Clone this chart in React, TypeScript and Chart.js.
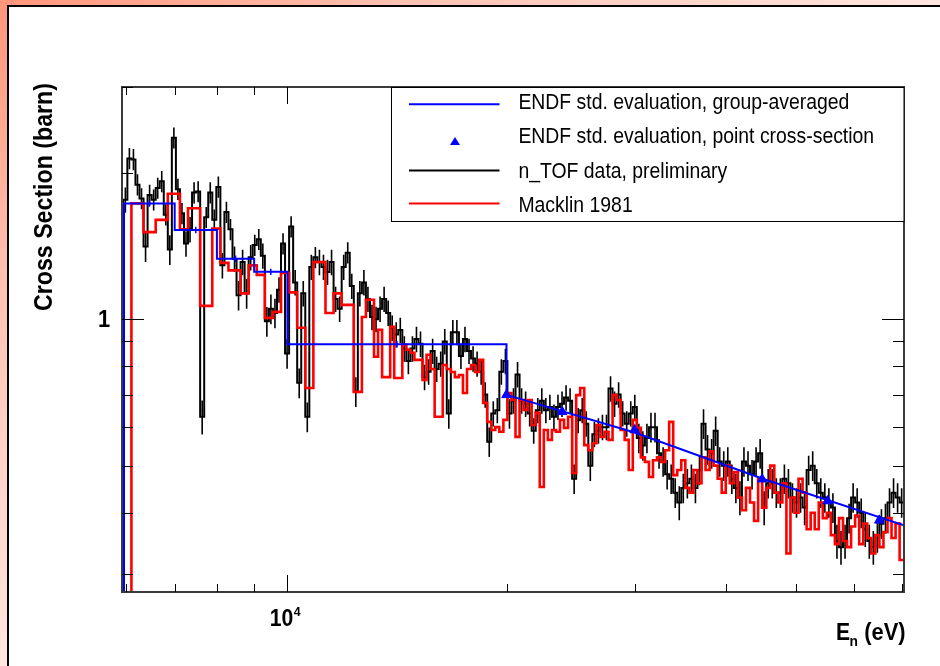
import React, { useEffect, useRef } from 'react';
import { Chart, registerables } from 'chart.js';

Chart.register(...registerables);

// ---- axis ranges (eV, barn) ----
const X_MIN = 5925;
const X_MAX = 70340;
const Y_MIN = 0.275;
const Y_MAX = 3.0;
const FLOOR = 0.2; // below the axis, histograms start from here

// ---- n_TOF binning: log-uniform bins ----
const BIN_START = 5950;
const BINS_PER_DECADE = 180;

// n_TOF data, preliminary (barn per bin)
const ntofXS = [
  1.76, 2.14, 2.13, 1.89, 1.77, 1.41, 1.80, 1.76, 1.86, 1.92,
  1.64, 1.39, 2.36, 1.85, 1.65, 1.43, 1.53, 1.82, 1.83, 0.63,
  1.62, 1.82, 1.60, 1.87, 1.29, 1.66, 1.53, 1.33, 1.12, 1.31,
  1.13, 1.34, 1.42, 1.46, 1.35, 0.99, 1.05, 1.03, 1.15, 1.43,
  0.85, 1.55, 1.19, 0.74, 1.13, 0.63, 1.28, 1.34, 1.31, 1.28,
  1.25, 1.31, 1.10, 1.05, 1.28, 1.37, 1.17, 0.71, 1.13, 1.19,
  1.10, 1.01, 1.00, 1.05, 1.10, 1.03, 0.96, 0.93, 0.95, 0.87,
  0.82, 0.87, 0.91, 0.89, 0.76, 0.78, 0.86, 0.79, 0.81, 0.90,
  0.64, 0.94, 0.94, 0.84, 0.91, 0.86, 0.83, 0.81, 0.78, 0.70,
  0.56, 0.64, 0.65, 0.78, 0.82, 0.64, 0.68, 0.77, 0.68, 0.67,
  0.64, 0.59, 0.65, 0.68, 0.65, 0.66, 0.63, 0.66, 0.67, 0.69,
  0.68, 0.47, 0.62, 0.65, 0.61, 0.50, 0.58, 0.59, 0.60, 0.60,
  0.72, 0.67, 0.70, 0.64, 0.61, 0.64, 0.66, 0.57, 0.55, 0.57,
  0.60, 0.60, 0.53, 0.51, 0.48, 0.47, 0.44, 0.42, 0.45, 0.46,
  0.47, 0.45, 0.49, 0.61, 0.54, 0.53, 0.59, 0.51, 0.50, 0.51,
  0.47, 0.45, 0.43, 0.51, 0.50, 0.48, 0.51, 0.53, 0.41, 0.46,
  0.46, 0.44, 0.44, 0.47, 0.46, 0.43, 0.42, 0.43, 0.41, 0.49,
  0.50, 0.46, 0.44, 0.43, 0.42, 0.41, 0.35, 0.34, 0.35, 0.39,
  0.43, 0.42, 0.40, 0.37, 0.35, 0.34, 0.36, 0.38, 0.39, 0.42,
  0.44, 0.43, 0.42,
];

// relative uncertainty of each n_TOF bin (percent)
const ntofErrPct = [
  6, 5, 5, 5, 5, 7, 5, 5, 5, 5,
  5, 7, 5, 5, 5, 6, 6, 5, 5, 8,
  5, 5, 5, 5, 6, 5, 5, 6, 7, 6,
  7, 6, 5, 5, 6, 7, 7, 7, 6, 5,
  7, 5, 6, 7, 6, 7, 6, 5, 6, 6,
  6, 6, 6, 6, 6, 5, 6, 7, 6, 6,
  6, 6, 6, 6, 6, 6, 6, 6, 6, 6,
  6, 6, 6, 6, 6, 6, 6, 6, 6, 6,
  7, 6, 6, 6, 6, 6, 6, 6, 6, 6,
  7, 6, 6, 6, 6, 7, 6, 6, 6, 6,
  6, 6, 6, 6, 6, 6, 6, 6, 6, 6,
  6, 7, 6, 6, 6, 7, 6, 6, 6, 6,
  6, 6, 6, 6, 6, 6, 6, 7, 7, 7,
  7, 7, 7, 7, 7, 7, 7, 8, 7, 7,
  7, 7, 7, 7, 7, 7, 7, 7, 7, 7,
  7, 7, 8, 7, 7, 7, 7, 7, 8, 7,
  7, 7, 7, 7, 7, 7, 7, 7, 8, 7,
  7, 7, 7, 7, 7, 7, 8, 8, 8, 7,
  7, 7, 7, 8, 8, 8, 8, 7, 7, 7,
  7, 7, 7,
];

// Macklin 1981 (same bin grid, starting at bin 2)
const MACKLIN_FIRST_BIN = 2;
const macklinXS = [
  1.73, 1.73, 1.73, 1.51, 1.51, 1.51, 1.60, 1.60, 1.60, 1.81,
  1.81, 1.81, 1.53, 1.53, 1.69, 1.69, 1.69, 1.065, 1.065, 1.065,
  1.535, 1.535, 1.305, 1.305, 1.26, 1.26, 1.26, 1.13, 1.13, 1.29,
  1.29, 1.233, 1.233, 1.006, 1.006, 1.035, 1.035, 1.245, 1.245, 1.135,
  1.135, 0.96, 0.96, 0.722, 0.722, 1.31, 1.31, 1.31, 1.03, 1.03,
  1.13, 1.13, 1.07, 1.07, 1.07, 0.709, 0.709, 1.01, 1.096, 1.096,
  0.837, 0.951, 0.76, 0.76, 0.964, 0.757, 0.757, 0.886, 0.865, 0.853,
  0.825, 0.825, 0.75, 0.845, 0.79, 0.63, 0.63, 0.805, 0.79, 0.779,
  0.76, 0.768, 0.705, 0.79, 0.805, 0.779, 0.825, 0.673, 0.615, 0.592,
  0.60, 0.587, 0.621, 0.705, 0.682, 0.573, 0.682, 0.651, 0.682, 0.606,
  0.642, 0.452, 0.592, 0.565, 0.592, 0.587, 0.621, 0.598, 0.63, 0.483,
  0.698, 0.722, 0.551, 0.538, 0.556, 0.606, 0.573, 0.587, 0.565, 0.698,
  0.682, 0.592, 0.565, 0.49, 0.621, 0.598, 0.52, 0.509, 0.474, 0.513,
  0.52, 0.509, 0.538, 0.615, 0.478, 0.49, 0.513, 0.45, 0.44, 0.49,
  0.46, 0.52, 0.49, 0.535, 0.50, 0.47, 0.44, 0.50, 0.46, 0.485,
  0.43, 0.405, 0.45, 0.42, 0.385, 0.47, 0.41, 0.45, 0.50, 0.44,
  0.42, 0.46, 0.33, 0.43, 0.40, 0.47, 0.44, 0.37, 0.40, 0.37,
  0.42, 0.39, 0.40, 0.36, 0.345, 0.39, 0.35, 0.34, 0.375, 0.395,
  0.345, 0.38, 0.355, 0.33, 0.36, 0.34, 0.365, 0.39, 0.355, 0.38,
  0.32,
];

// ENDF std. evaluation, group-averaged
const groupEdges = [5963, 7000, 8000, 9000, 10000, 20000];
const groupXS = [1.729, 1.525, 1.331, 1.251, 0.888];
const groupErrPct = [1.5, 1.5, 1.5, 1.5, 1.5];
const endfLineE = [20000, 30000, 45000, 70340];
const endfLineXS = [0.699, 0.585, 0.47, 0.377];

// ENDF std. evaluation, point cross-section
const endfPointE = [20000, 23850, 30000, 44900, 55250, 65050];
const endfPointXS = [0.699, 0.645, 0.592, 0.469, 0.423, 0.386];

// axis ticks
const xTickValues = [6000, 7000, 8000, 9000, 10000, 20000, 30000, 40000, 50000, 60000, 70000];
const xMajorTicks = [10000];
const yTickValues = [0.3, 0.4, 0.5, 0.6, 0.7, 0.8, 0.9, 1, 2, 3];
const yMajorTicks = [1];

const legendLabels = [
  'ENDF std. evaluation, group-averaged',
  'ENDF std. evaluation, point cross-section',
  'n_TOF data, preliminary',
  'Macklin 1981',
];
const yTitle = 'Cross Section (barn)';

const FONT = '"Liberation Sans", Arial, Helvetica, sans-serif';

function edge(k: number) {
  return BIN_START * Math.pow(10, k / BINS_PER_DECADE);
}

function histPoints(vals: number[], first: number) {
  const pts: { x: number; y: number | null }[] = [{ x: edge(first), y: FLOOR }];
  vals.forEach((v, i) => pts.push({ x: edge(first + i), y: v }));
  pts.push({ x: edge(first + vals.length), y: vals[vals.length - 1] });
  return pts;
}

function errorPoints(vals: number[], pct: number[], centers: number[]) {
  const pts: { x: number; y: number | null }[] = [];
  vals.forEach((v, i) => {
    const c = centers[i];
    pts.push({ x: c, y: v * (1 - pct[i] / 100) });
    pts.push({ x: c, y: v * (1 + pct[i] / 100) });
    pts.push({ x: c, y: null });
  });
  return pts;
}

function inkText(
  ctx: CanvasRenderingContext2D,
  s: string,
  font: string,
  x: number,
  y: number,
  align: 'left' | 'right' | 'center',
  sx: number
) {
  ctx.save();
  ctx.font = font;
  ctx.textAlign = 'left';
  ctx.textBaseline = 'alphabetic';
  const m = ctx.measureText(s);
  const l = -m.actualBoundingBoxLeft;
  const r = m.actualBoundingBoxRight;
  let ox = x - l * sx;
  if (align === 'right') ox = x - r * sx;
  if (align === 'center') ox = x - ((l + r) / 2) * sx;
  ctx.translate(ox, y);
  ctx.scale(sx, 1);
  ctx.fillText(s, 0, 0);
  ctx.restore();
}

const rootStyle = {
  id: 'rootStyle',
  afterDatasetsDraw(chart: any) {
    const ctx: CanvasRenderingContext2D = chart.ctx;
    const xs = chart.scales.x;
    const ys = chart.scales.y;
    const { left, right, top, bottom } = chart.chartArea;

    ctx.save();
    // frame
    ctx.strokeStyle = '#3a3a3a';
    ctx.lineWidth = 2;
    ctx.strokeRect(left, top, right - left, bottom - top);

    // ticks
    ctx.strokeStyle = '#000';
    ctx.lineWidth = 1;
    ctx.beginPath();
    xTickValues.forEach((v) => {
      const px = Math.round(xs.getPixelForValue(v)) + 0.5;
      const len = xMajorTicks.includes(v) ? 17 : 8;
      ctx.moveTo(px, bottom);
      ctx.lineTo(px, bottom - len);
      ctx.moveTo(px, top);
      ctx.lineTo(px, top + len);
    });
    yTickValues.forEach((v) => {
      const py = Math.round(ys.getPixelForValue(v)) + 0.5;
      const len = yMajorTicks.includes(v) ? 22 : 11;
      ctx.moveTo(left, py);
      ctx.lineTo(left + len, py);
      ctx.moveTo(right, py);
      ctx.lineTo(right - len, py);
    });
    ctx.stroke();

    // legend box
    const lx0 = 391.5, ly0 = top, lx1 = right, ly1 = 221.5;
    ctx.fillStyle = '#fff';
    ctx.fillRect(lx0, ly0, lx1 - lx0, ly1 - ly0);
    ctx.strokeStyle = '#000';
    ctx.lineWidth = 1;
    ctx.strokeRect(lx0, ly0 + 0.5, lx1 - lx0, ly1 - ly0 - 0.5);

    const rowBase = [109.3, 143.4, 177.5, 211.6];
    const rowLineY = [104.3, 141.5, 170.5, 203.5];
    const colors = ['#0000ff', '#0000ff', '#000000', '#ff0000'];
    ctx.lineWidth = 2;
    [0, 2, 3].forEach((i) => {
      ctx.strokeStyle = colors[i];
      ctx.beginPath();
      ctx.moveTo(409, rowLineY[i]);
      ctx.lineTo(499.5, rowLineY[i]);
      ctx.stroke();
    });
    // triangle marker in legend
    ctx.fillStyle = '#0000ff';
    ctx.beginPath();
    ctx.moveTo(455, rowLineY[1] - 4.5);
    ctx.lineTo(460, rowLineY[1] + 3.5);
    ctx.lineTo(450, rowLineY[1] + 3.5);
    ctx.closePath();
    ctx.fill();

    ctx.fillStyle = '#000';
    const lfont = `22px ${FONT}`;
    ctx.font = lfont;
    const m0 = ctx.measureText(legendLabels[0]);
    const lsx = (848.3 - 519.3) / (m0.actualBoundingBoxRight + m0.actualBoundingBoxLeft);
    legendLabels.forEach((s, i) => inkText(ctx, s, lfont, 519.3, rowBase[i], 'left', lsx));

    // y tick label "1"
    const y1 = ys.getPixelForValue(yMajorTicks[0]);
    inkText(ctx, '1', `bold 23px ${FONT}`, 110.3, y1 + 7.4, 'right', 0.95);

    // x tick label 10^4
    const x4 = xs.getPixelForValue(xMajorTicks[0]);
    inkText(ctx, '10', `bold 23px ${FONT}`, x4 - 16.7, 626, 'left', 0.92);
    inkText(ctx, '4', `bold 13px ${FONT}`, x4 + 6.3, 615.5, 'left', 0.95);

    // x title E_n (eV)
    inkText(ctx, 'E', `bold 23px ${FONT}`, 837, 640, 'left', 0.92);
    inkText(ctx, 'n', `bold 15px ${FONT}`, 849.5, 646, 'left', 0.92);
    inkText(ctx, '(eV)', `bold 23px ${FONT}`, 905, 640, 'right', 0.95);

    // y title (rotated)
    ctx.save();
    const tfont = `bold 25px ${FONT}`;
    ctx.font = tfont;
    const mt = ctx.measureText(yTitle);
    const tsx = 226.7 / (mt.actualBoundingBoxRight + mt.actualBoundingBoxLeft);
    ctx.translate(51.7, 196.7);
    ctx.rotate(-Math.PI / 2);
    inkText(ctx, yTitle, tfont, 0, 0, 'center', tsx);
    ctx.restore();

    ctx.restore();
  },
};

export default function App() {
  const ref = useRef<HTMLCanvasElement | null>(null);

  useEffect(() => {
    if (!ref.current) return;
    const centers = ntofXS.map((_, i) => Math.sqrt(edge(i) * edge(i + 1)));
    const groupCenters = groupXS.map((_, i) => Math.sqrt(groupEdges[i] * groupEdges[i + 1]));

    const bluePts: { x: number; y: number | null }[] = [{ x: groupEdges[0], y: FLOOR }];
    groupXS.forEach((v, i) => {
      bluePts.push({ x: groupEdges[i], y: v });
      bluePts.push({ x: groupEdges[i + 1], y: v });
    });
    endfLineE.forEach((e, i) => bluePts.push({ x: e, y: endfLineXS[i] }));

    const clip = { left: 0, top: 0, right: 0, bottom: 0 };

    const chart = new Chart(ref.current, {
      type: 'line',
      data: {
        datasets: [
          {
            label: legendLabels[1],
            data: endfPointE.map((e, i) => ({ x: e, y: endfPointXS[i] })),
            showLine: false,
            pointStyle: 'triangle',
            pointRadius: 5.5,
            pointBackgroundColor: '#0000ff',
            pointBorderColor: '#0000ff',
            pointBorderWidth: 1,
            clip,
          },
          {
            label: legendLabels[0],
            data: bluePts,
            borderColor: '#0000ff',
            borderWidth: 2,
            pointRadius: 0,
            fill: false,
            clip,
          },
          {
            label: 'group marks',
            data: errorPoints(groupXS, groupErrPct, groupCenters),
            borderColor: '#0000ff',
            borderWidth: 1.5,
            pointRadius: 0,
            spanGaps: false,
            clip,
          },
          {
            label: legendLabels[3],
            data: histPoints(macklinXS, MACKLIN_FIRST_BIN),
            borderColor: '#ff0000',
            borderWidth: 2.6,
            stepped: true,
            pointRadius: 0,
            fill: false,
            clip,
          },
          {
            label: 'n_TOF errors',
            data: errorPoints(ntofXS, ntofErrPct, centers),
            borderColor: '#000000',
            borderWidth: 1.6,
            pointRadius: 0,
            spanGaps: false,
            clip,
          },
          {
            label: legendLabels[2],
            data: histPoints(ntofXS, 0),
            borderColor: '#000000',
            borderWidth: 2,
            stepped: true,
            pointRadius: 0,
            fill: false,
            clip,
          },
        ],
      },
      options: {
        responsive: false,
        animation: false,
        devicePixelRatio: 1,
        events: [],
        layout: { padding: { left: 122, top: 87, right: 36, bottom: 74 } },
        scales: {
          x: { type: 'logarithmic', min: X_MIN, max: X_MAX, display: false },
          y: { type: 'logarithmic', min: Y_MIN, max: Y_MAX, display: false },
        },
        plugins: { legend: { display: false }, tooltip: { enabled: false } },
        elements: { line: { tension: 0 }, point: { radius: 0 } },
      },
      plugins: [rootStyle],
    } as any);
    return () => chart.destroy();
  }, []);

  return (
    <div
      style={{
        position: 'fixed',
        left: 0,
        top: 0,
        width: 940,
        height: 666,
        overflow: 'hidden',
        background:
          'linear-gradient(to bottom right, #ff957a 0%, #ffc3b2 22%, #ffe6df 50%, #fff3f0 100%)',
      }}
    >
      <div
        style={{
          position: 'absolute',
          left: 7,
          top: 5,
          width: 960,
          height: 700,
          background: '#ffffff',
          borderTop: '2px solid #000',
          borderLeft: '2px solid #000',
        }}
      />
      <canvas
        ref={ref}
        width={940}
        height={666}
        style={{ position: 'absolute', left: 0, top: 0 }}
      />
    </div>
  );
}
